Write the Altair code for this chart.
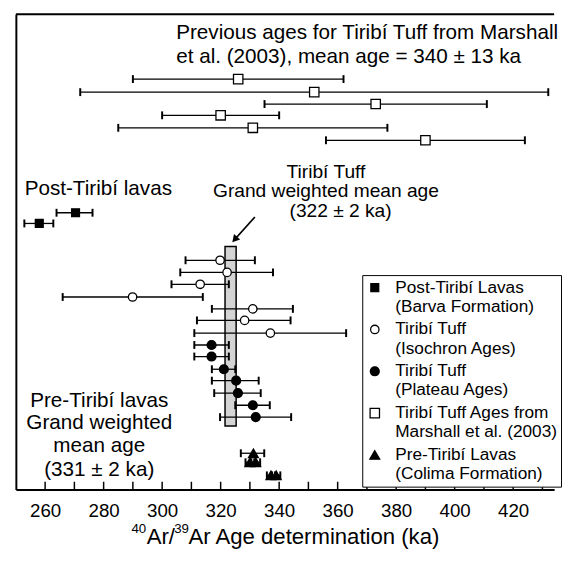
import altair as alt
import pandas as pd

FONT = "Liberation Sans"
XMIN, XMAX = 250, 434
YMAX = 40

# ---- data (ages in ka, rows are vertical slots) ----
marshall_age = [326, 352, 373, 320, 331, 390]
marshall_lo = [290, 272, 335, 300, 285, 356]
marshall_hi = [362, 432, 411, 340, 377, 424]
marshall_row = [5.45, 6.55, 7.55, 8.5, 9.55, 10.6]

post_age = [270.4, 258.0]
post_lo = [263.9, 252.9]
post_hi = [276.2, 262.8]
post_row = [16.7, 17.6]

iso_age = [319.8, 322.2, 313.0, 289.9, 331.0, 328.2, 337.0]
iso_lo = [308.0, 306.2, 303.2, 266.0, 317.0, 311.9, 311.0]
iso_hi = [331.7, 337.9, 322.8, 313.9, 344.7, 343.9, 362.9]
iso_row = [20.7, 21.72, 22.72, 23.79, 24.79, 25.76, 26.83]

plat_age = [316.9, 316.9, 321.1, 325.3, 325.9, 331.0, 332.0]
plat_lo = [311.0, 311.0, 317.0, 317.0, 317.8, 325.0, 319.8]
plat_hi = [322.8, 322.8, 325.0, 333.0, 333.7, 336.8, 344.1]
plat_row = [27.83, 28.8, 29.87, 30.83, 31.88, 32.9, 33.9]

pre_age = [331.2, 330.0, 332.0, 337.2, 339.0]
pre_lo = [326.9, 328.5, 330.5, 335.8, 337.6]
pre_hi = [334.9, 331.5, 333.5, 338.6, 340.4]
pre_row = [36.94, 37.7, 37.7, 38.8, 38.8]

SERIES = [
    "Post-Tiribí Lavas|(Barva Formation)",
    "Tiribí Tuff|(Isochron Ages)",
    "Tiribí Tuff|(Plateau Ages)",
    "Tiribí Tuff Ages from|Marshall et al. (2003)",
    "Pre-Tiribí Lavas|(Colima Formation)",
]
SHAPES = ["square", "circle", "circle", "square", "triangle-up"]
FILLS = ["black", "white", "black", "white", "black"]
SIZES = [64, 100, 121, 100, 130]

# grand weighted mean band of the Tiribí Tuff
band_lo, band_hi = [321.5], [325.3]
band_top, band_bottom = [19.54], [34.64]

# arrow
arrow_x, arrow_x2 = [331.7], [324.8]
arrow_y, arrow_y2 = [17.06], [18.95]

tick_values = list(range(260, 440, 10))
label_values = list(range(260, 421, 20))

# texts
left_text = ["Previous ages for Tiribí Tuff from Marshall",
             "et al. (2003), mean age = 340 ± 13 ka",
             "Post-Tiribí lavas"]
left_x = [304.8, 304.8, 253.0]
left_y = [1.57, 3.59, 14.75]

tuff_text = ["Tiribí Tuff", "Grand weighted mean age", "(322 ± 2 ka)"]
tuff_x = [356.0, 356.0, 361.0]
tuff_y = [13.25, 14.91, 16.56]

pre_text = ["Pre-Tiribí lavas", "Grand weighted", "mean age", "(331 ± 2 ka)"]
pre_x = [278.5, 278.5, 278.5, 278.5]
pre_y = [32.52, 34.37, 36.38, 38.32]

# axis title pieces (superscript isotopes)
title_big = ["Ar/", "Ar Age determination (ka)"]
title_big_x = [294.7, 309.0]
title_sup = ["40", "39"]
title_sup_x = [289.5, 304.1]
title_y = 44.0
title_sup_y = 43.35

# ---- build tables ----
groups = [
    (SERIES[0], post_age, post_lo, post_hi, post_row),
    (SERIES[1], iso_age, iso_lo, iso_hi, iso_row),
    (SERIES[2], plat_age, plat_lo, plat_hi, plat_row),
    (SERIES[3], marshall_age, marshall_lo, marshall_hi, marshall_row),
    (SERIES[4], pre_age, pre_lo, pre_hi, pre_row),
]
rows = []
for s, a, lo, hi, r in groups:
    for i in range(len(a)):
        rows.append({"series": s, "age": a[i], "lo": lo[i], "hi": hi[i], "row": r[i]})
pts = pd.DataFrame(rows)
caps = pd.concat([
    pts[["lo", "row"]].rename(columns={"lo": "cap"}),
    pts[["hi", "row"]].rename(columns={"hi": "cap"}),
])

xscale = alt.Scale(domain=[XMIN, XMAX], nice=False, zero=False)
yscale = alt.Scale(domain=[0, YMAX], nice=False, zero=False, reverse=True)
xaxis = alt.Axis(values=label_values, ticks=False, grid=False, domainWidth=2,
                 domainColor="black", labelFont=FONT, labelFontSize=19,
                 labelColor="black", labelPadding=12, labelFlush=False, title=None)
yaxis = alt.Axis(domain=True, ticks=False, labels=False, grid=False, title=None,
                 domainWidth=2, domainColor="black")


def X(f):
    return alt.X(f, type="quantitative", scale=xscale, axis=xaxis)


def Y(f):
    return alt.Y(f, type="quantitative", scale=yscale, axis=yaxis)


band = alt.Chart(pd.DataFrame({"lo": band_lo, "hi": band_hi, "t": band_top, "b": band_bottom})).mark_rect(
    fill="#d4d4d4", stroke="black", strokeWidth=1.5
).encode(x=X("lo"), x2="hi", y=Y("t"), y2="b")

err = alt.Chart(pts).mark_rule(color="black", strokeWidth=1.3).encode(
    x=X("lo"), x2="hi", y=Y("row"))

cap = alt.Chart(caps).mark_tick(orient="vertical", color="black", size=8, thickness=2, opacity=1).encode(
    x=X("cap"), y=Y("row"))

legend = alt.Legend(title=None, orient="none", legendX=352, legendY=265,
                    fillColor="white", strokeColor="black", padding=4,
                    labelFont=FONT, labelFontSize=17.5, labelColor="black",
                    labelExpr="split(datum.label, '|')", labelLimit=0,
                    symbolStrokeColor="black", symbolStrokeWidth=1.3,
                    rowPadding=4.5, labelOffset=12, symbolOpacity=1)

points = alt.Chart(pts).mark_point(filled=True, opacity=1, strokeWidth=1.3).encode(
    x=X("age"), y=Y("row"),
    shape=alt.Shape("series:N", scale=alt.Scale(domain=SERIES, range=SHAPES), legend=legend),
    fill=alt.Fill("series:N", scale=alt.Scale(domain=SERIES, range=FILLS), legend=legend),
    stroke=alt.Stroke("series:N", scale=alt.Scale(domain=SERIES, range=["black"] * 5), legend=legend),
    size=alt.Size("series:N", scale=alt.Scale(domain=SERIES, range=SIZES), legend=legend),
)

ticks = alt.Chart(pd.DataFrame({"t": tick_values, "y": [YMAX] * len(tick_values),
                                "y2": [YMAX - 0.66] * len(tick_values)})).mark_rule(
    color="black", strokeWidth=1.5).encode(x=X("t"), y=Y("y"), y2="y2")

top = alt.Chart(pd.DataFrame({"a": [XMIN], "b": [XMAX], "y": [0]})).mark_rule(
    color="black", strokeWidth=2).encode(x=X("a"), x2="b", y=Y("y"))

arrow_line = alt.Chart(pd.DataFrame({"x": arrow_x, "x2": arrow_x2, "y": arrow_y, "y2": arrow_y2})).mark_rule(
    color="black", strokeWidth=1.8).encode(x=X("x"), x2="x2", y=Y("y"), y2="y2")
arrow_head = alt.Chart(pd.DataFrame({"x": arrow_x2, "y": arrow_y2})).mark_point(
    shape="triangle-up", filled=True, color="black", opacity=1, size=70, angle=222).encode(
    x=X("x"), y=Y("y"))


def texts(tx, xs, ys, size, align):
    return alt.Chart(pd.DataFrame({"x": xs, "y": ys, "t": tx})).mark_text(
        font=FONT, fontSize=size, align=align, baseline="middle", color="black").encode(
        x=X("x"), y=Y("y"), text="t:N")


ltext = texts(left_text, left_x, left_y, 21, "left")
ttext = texts(tuff_text, tuff_x, tuff_y, 19.5, "center")
ptext = texts(pre_text, pre_x, pre_y, 21, "center")
tbig = texts(title_big, title_big_x, [title_y] * 2, 22.5, "left")
tsup = texts(title_sup, title_sup_x, [title_sup_y] * 2, 13.5, "left")

chart = alt.layer(top, ticks, band, err, cap, points, arrow_line, arrow_head,
                  ltext, ttext, ptext, tbig, tsup).properties(
    width=547, height=483, padding={"left": 7, "top": 1, "right": 0, "bottom": 0}
).configure_view(stroke=None)

chart.save("out.html", embed_options={"renderer": "svg", "actions": False})
